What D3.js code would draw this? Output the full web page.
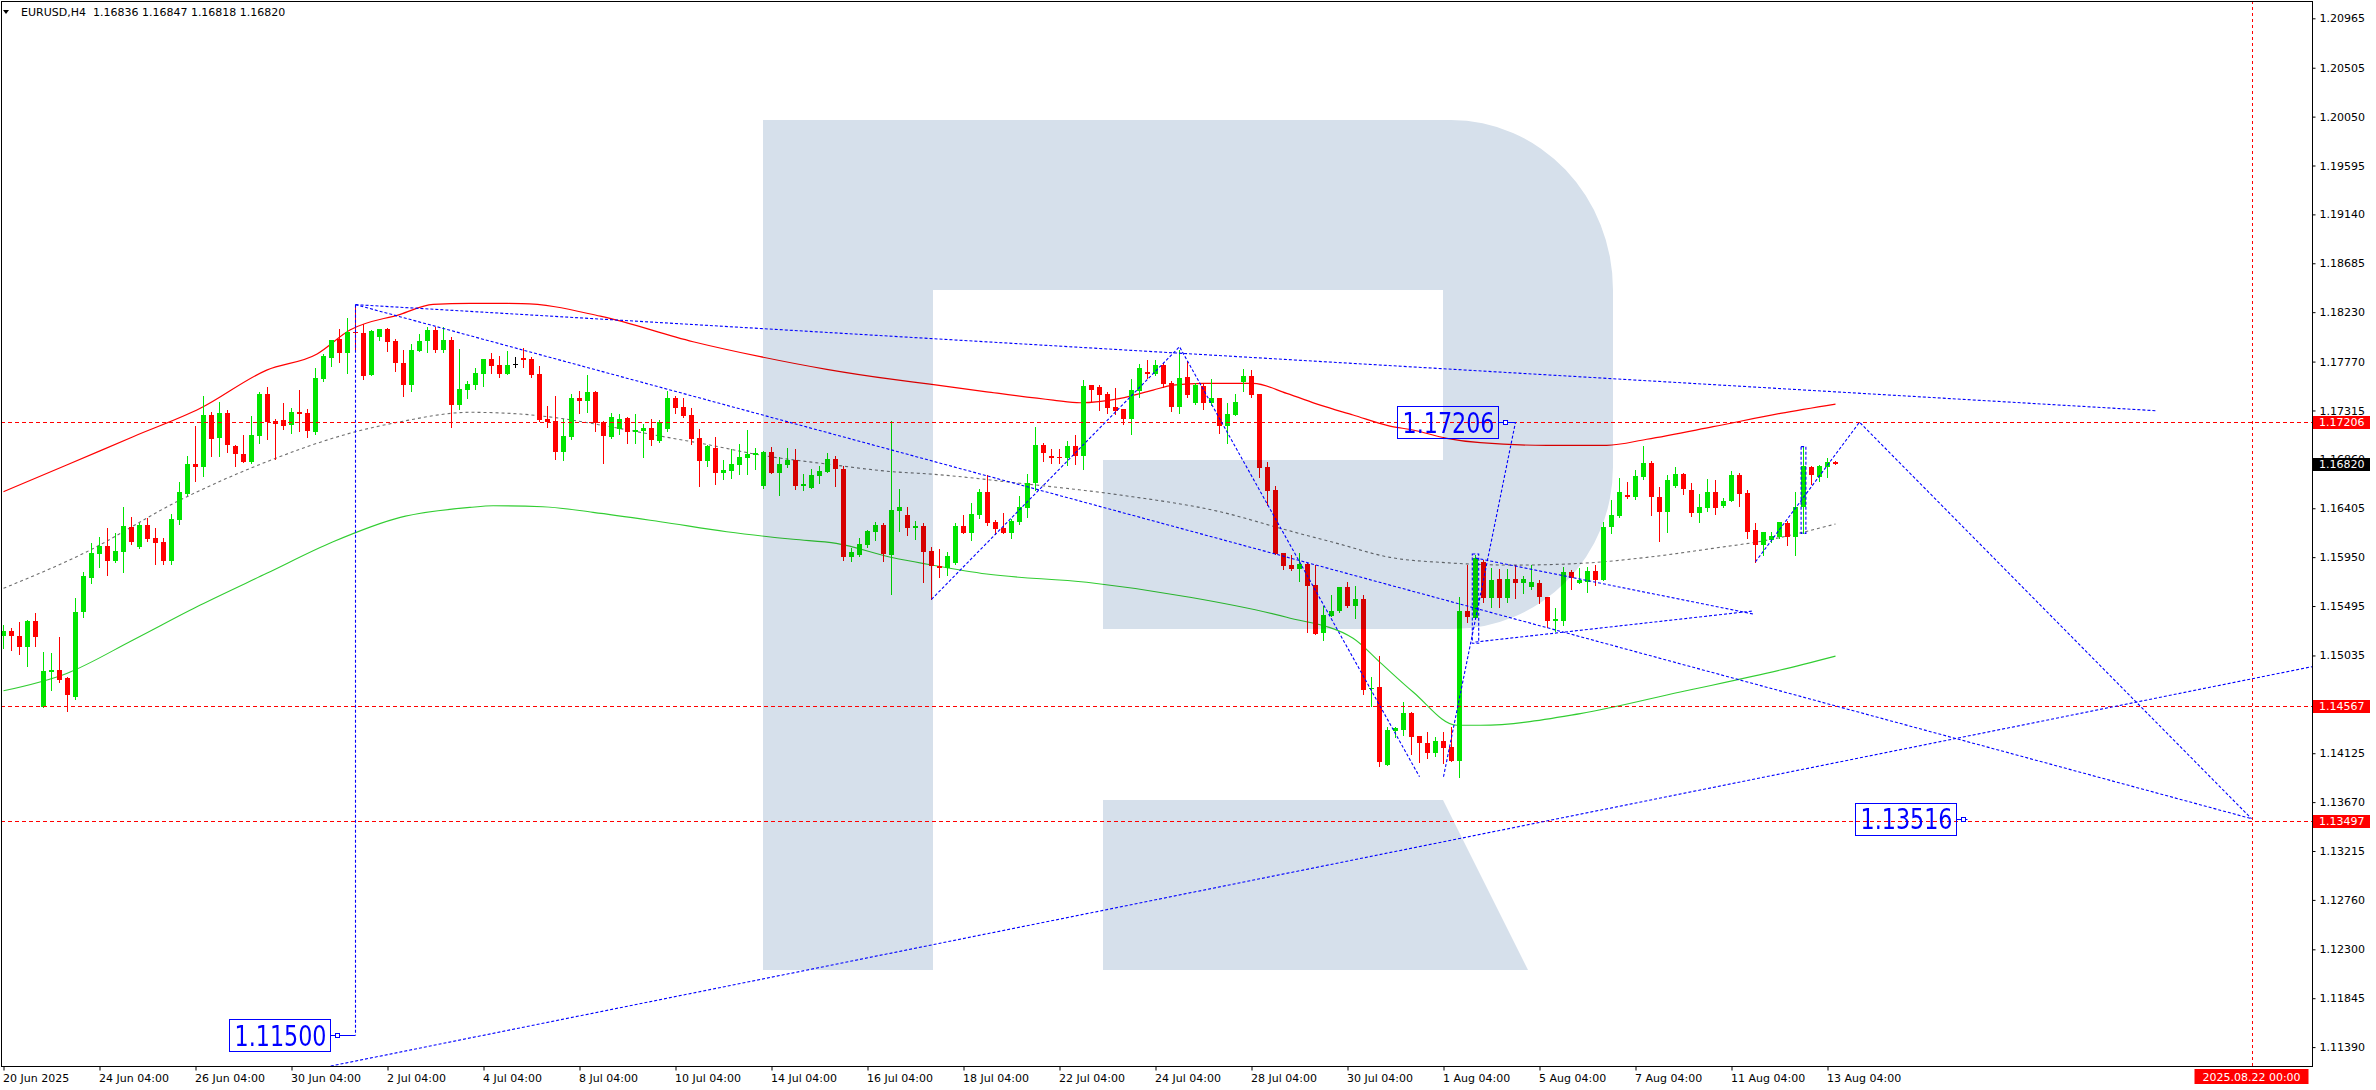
<!DOCTYPE html>
<html><head><meta charset="utf-8">
<script src="https://cdn.jsdelivr.net/npm/d3@7/dist/d3.min.js"></script>
<style>
html,body{margin:0;padding:0;background:#fff;overflow:hidden}
svg{display:block}
</style></head><body>
<svg id="chart" width="2376" height="1090"></svg>
<script>
// ================= DATA =================
const symbolTitle = "EURUSD,H4";
const firstBarTime = "2025-06-20T04:00:00Z";
const lastBarOHLC = [1.16836, 1.16847, 1.16818, 1.16820];

const opens = [1.15219,1.15263,1.15216,1.15117,1.15358,1.14558,1.14883,1.14899,1.14822,1.14651,
1.15442,1.15758,1.15979,1.16053,1.15914,1.16000,1.16230,1.16047,1.16248,1.16128,
1.16093,1.15916,1.16295,1.16538,1.16817,1.16792,1.17273,1.17061,1.17288,1.16984,
1.16910,1.16835,1.17080,1.17468,1.17217,1.17226,1.17177,1.17300,1.17288,1.17117,
1.17607,1.17806,1.17978,1.17853,1.18045,1.18039,1.17644,1.17996,1.18071,1.17962,
1.17754,1.17554,1.17871,1.17959,1.18064,1.17878,1.17971,1.17368,1.17508,1.17551,
1.17654,1.17794,1.17738,1.17654,1.17747,1.17803,1.17794,1.17654,1.17236,1.17217,
1.16931,1.17065,1.17428,1.17405,1.17486,1.17205,1.17071,1.17142,1.17242,1.17117,
1.17124,1.17152,1.17034,1.17140,1.17431,1.17344,1.17273,1.17056,1.16847,1.16965,
1.16736,1.16754,1.16808,1.16875,1.16900,1.16612,1.16925,1.16730,1.16808,1.16854,
1.16612,1.16593,1.16705,1.16742,1.16863,1.16772,1.15948,1.15970,1.16062,1.16187,
1.16248,1.15970,1.16379,1.16342,1.16223,1.16239,1.16009,1.15867,1.15848,1.15898,
1.16239,1.16177,1.16342,1.16553,1.16276,1.16218,1.16177,1.16274,1.16410,1.16637,
1.16993,1.16891,1.16885,1.16873,1.16984,1.16891,1.17549,1.17536,1.17468,1.17344,
1.17329,1.17233,1.17496,1.17673,1.17654,1.17741,1.17573,1.17344,1.17629,1.17381,
1.17542,1.17381,1.17428,1.17170,1.17273,1.17582,1.17638,1.17468,1.16791,1.16575,
1.15986,1.15876,1.15842,1.15883,1.15690,1.15241,1.15402,1.15449,1.15669,1.15495,
1.15560,1.14720,1.14738,1.14015,1.14332,1.14341,1.14502,1.14285,1.14223,1.14130,
1.14238,1.14180,1.14055,1.15449,1.15381,1.15908,1.15567,1.15743,1.15573,1.15743,
1.15712,1.15669,1.15712,1.15576,1.15358,1.15358,1.15814,1.15712,1.15721,1.15821,
1.15737,1.16227,1.16332,1.16528,1.16512,1.16693,1.16829,1.16506,1.16372,1.16612,
1.16724,1.16575,1.16363,1.16404,1.16559,1.16426,1.16469,1.16714,1.16550,1.16202,
1.16063,1.16109,1.16140,1.16264,1.16140,1.16413,1.16792,1.16698,1.16792,1.16836];

const highs = [1.15318,1.15293,1.15349,1.15365,1.15433,1.15069,1.15057,1.15210,1.14834,1.15572,
1.15814,1.16078,1.16134,1.16218,1.16171,1.16414,1.16320,1.16264,1.16311,1.16218,
1.16125,1.16351,1.16649,1.16891,1.17170,1.17449,1.17298,1.17393,1.17319,1.16990,
1.17087,1.17263,1.17490,1.17530,1.17236,1.17381,1.17338,1.17505,1.17326,1.17710,
1.17840,1.17971,1.18071,1.18173,1.18300,1.18120,1.18064,1.18076,1.18085,1.17978,
1.17878,1.17934,1.18027,1.18090,1.18090,1.18090,1.17996,1.17887,1.17591,1.17713,
1.17794,1.17853,1.17822,1.17871,1.17810,1.17893,1.17810,1.17729,1.17356,1.17449,
1.17233,1.17468,1.17496,1.17644,1.17496,1.17219,1.17288,1.17279,1.17251,1.17282,
1.17189,1.17233,1.17226,1.17498,1.17449,1.17428,1.17335,1.17142,1.16993,1.17065,
1.16854,1.16953,1.17000,1.17133,1.16963,1.16935,1.16978,1.16885,1.16968,1.16956,
1.16724,1.16767,1.16798,1.16916,1.16891,1.16798,1.16032,1.16125,1.16202,1.16274,
1.16264,1.17219,1.16584,1.16419,1.16286,1.16270,1.16041,1.16028,1.16000,1.16270,
1.16342,1.16456,1.16584,1.16714,1.16295,1.16363,1.16301,1.16519,1.16724,1.17158,
1.17015,1.16956,1.16953,1.17031,1.17087,1.17598,1.17549,1.17551,1.17489,1.17521,
1.17329,1.17605,1.17747,1.17785,1.17785,1.17760,1.17589,1.17880,1.17772,1.17567,
1.17573,1.17605,1.17428,1.17387,1.17468,1.17701,1.17691,1.17468,1.16833,1.16612,
1.15986,1.15967,1.15986,1.15892,1.15874,1.15498,1.15598,1.15675,1.15716,1.15681,
1.15598,1.14837,1.15030,1.14372,1.14372,1.14604,1.14511,1.14285,1.14325,1.14279,
1.14325,1.14372,1.15576,1.15877,1.15970,1.15923,1.15846,1.15837,1.15837,1.15877,
1.15774,1.15877,1.15737,1.15582,1.15474,1.15855,1.15830,1.15846,1.15855,1.15877,
1.16280,1.16482,1.16683,1.16652,1.16761,1.16984,1.16847,1.16605,1.16714,1.16786,
1.16736,1.16637,1.16538,1.16677,1.16668,1.16497,1.16754,1.16736,1.16575,1.16264,
1.16184,1.16187,1.16280,1.16289,1.16553,1.16984,1.16798,1.16808,1.16875,1.16847];

const lows = [1.15105,1.15085,1.15048,1.14936,1.15123,1.14558,1.14713,1.14790,1.14520,1.14627,
1.15396,1.15712,1.15855,1.15783,1.15902,1.15814,1.16072,1.16032,1.16102,1.15886,
1.15886,1.15886,1.16258,1.16528,1.16661,1.16705,1.16891,1.16891,1.16928,1.16801,
1.16835,1.16826,1.17009,1.17047,1.16863,1.17145,1.17108,1.17126,1.17071,1.17096,
1.17591,1.17729,1.17769,1.17666,1.17887,1.17604,1.17644,1.17971,1.17871,1.17685,
1.17449,1.17498,1.17871,1.17862,1.17862,1.17862,1.17164,1.17331,1.17427,1.17512,
1.17542,1.17660,1.17629,1.17654,1.17716,1.17722,1.17629,1.17219,1.17164,1.16863,
1.16854,1.17049,1.17294,1.17303,1.17126,1.16823,1.17056,1.17096,1.17009,1.17015,
1.16885,1.16993,1.17024,1.17126,1.17288,1.17251,1.17003,1.16615,1.16798,1.16631,
1.16677,1.16689,1.16724,1.16724,1.16770,1.16596,1.16730,1.16528,1.16786,1.16584,
1.16575,1.16593,1.16643,1.16742,1.16612,1.15923,1.15916,1.15960,1.16047,1.16109,
1.15916,1.15607,1.16196,1.16156,1.16116,1.15721,1.15557,1.15768,1.15783,1.15886,
1.16177,1.16109,1.16311,1.16248,1.16162,1.16171,1.16130,1.16255,1.16326,1.16575,
1.16847,1.16829,1.16823,1.16808,1.16817,1.16772,1.17405,1.17319,1.17294,1.17282,
1.17189,1.17096,1.17443,1.17614,1.17644,1.17536,1.17313,1.17294,1.17443,1.17375,
1.17331,1.17366,1.17102,1.17015,1.17273,1.17496,1.17443,1.16698,1.16435,1.15979,
1.15839,1.15830,1.15731,1.15256,1.15235,1.15179,1.15402,1.15437,1.15483,1.15380,
1.14676,1.14564,1.14006,1.14015,1.14279,1.14294,1.14118,1.14046,1.14084,1.14099,
1.14031,1.14055,1.13906,1.15349,1.15381,1.15536,1.15489,1.15489,1.15536,1.15567,
1.15619,1.15650,1.15526,1.15303,1.15265,1.15318,1.15653,1.15706,1.15628,1.15690,
1.15737,1.16171,1.16320,1.16497,1.16488,1.16674,1.16342,1.16102,1.16187,1.16606,
1.16538,1.16332,1.16280,1.16382,1.16351,1.16413,1.16469,1.16426,1.16125,1.15907,
1.15970,1.16093,1.16125,1.16063,1.15970,1.16171,1.16631,1.16661,1.16698,1.16818];

const closes = [1.15263,1.15219,1.15117,1.15358,1.15210,1.14892,1.14899,1.14806,1.14666,1.15442,
1.15774,1.15985,1.16056,1.15916,1.16007,1.16239,1.16093,1.16248,1.16118,1.16084,
1.15916,1.16304,1.16556,1.16817,1.16792,1.17273,1.17052,1.17288,1.16996,1.16913,
1.16835,1.17087,1.17468,1.17205,1.17186,1.17173,1.17300,1.17282,1.17126,1.17617,
1.17822,1.17971,1.17853,1.18045,1.18033,1.17635,1.18055,1.18071,1.17955,1.17754,
1.17554,1.17878,1.17962,1.18064,1.17878,1.17971,1.17368,1.17514,1.17558,1.17666,
1.17794,1.17729,1.17654,1.17738,1.17747,1.17785,1.17644,1.17226,1.17207,1.16931,
1.17077,1.17428,1.17405,1.17486,1.17201,1.17077,1.17251,1.17233,1.17117,1.17133,
1.17152,1.17040,1.17205,1.17431,1.17338,1.17263,1.17049,1.16847,1.16987,1.16736,
1.16761,1.16817,1.16885,1.16910,1.16919,1.16925,1.16730,1.16817,1.16854,1.16612,
1.16631,1.16714,1.16752,1.16863,1.16772,1.15948,1.16000,1.16072,1.16193,1.16248,
1.15979,1.16388,1.16416,1.16223,1.16239,1.16000,1.15867,1.15848,1.15960,1.16239,
1.16177,1.16351,1.16553,1.16264,1.16214,1.16177,1.16286,1.16413,1.16643,1.16993,
1.16922,1.16873,1.16873,1.16984,1.16891,1.17542,1.17505,1.17458,1.17341,1.17310,
1.17238,1.17505,1.17710,1.17654,1.17741,1.17561,1.17344,1.17614,1.17458,1.17549,
1.17387,1.17428,1.17170,1.17282,1.17396,1.17638,1.17458,1.16782,1.16565,1.15979,
1.15870,1.15839,1.15883,1.15684,1.15235,1.15412,1.15449,1.15669,1.15495,1.15560,
1.14713,1.14735,1.14043,1.14341,1.14356,1.14502,1.14279,1.14217,1.14130,1.14238,
1.14176,1.14055,1.15449,1.15390,1.15939,1.15567,1.15737,1.15573,1.15743,1.15712,
1.15743,1.15718,1.15576,1.15358,1.15371,1.15814,1.15752,1.15737,1.15821,1.15737,
1.16233,1.16342,1.16556,1.16506,1.16705,1.16829,1.16506,1.16372,1.16668,1.16724,
1.16582,1.16363,1.16419,1.16559,1.16404,1.16475,1.16714,1.16538,1.16187,1.16063,
1.16184,1.16146,1.16280,1.16140,1.16419,1.16798,1.16714,1.16798,1.16836,1.16820];

const priceTicks = [1.20965,1.20505,1.20050,1.19595,1.19140,1.18685,1.18230,1.17770,1.17315,1.16860,
1.16405,1.15950,1.15495,1.15035,1.14580,1.14125,1.13670,1.13215,1.12760,1.12300,1.11845,1.11390];

const timeTickLabels = ["20 Jun 2025","24 Jun 04:00","26 Jun 04:00","30 Jun 04:00","2 Jul 04:00","4 Jul 04:00",
"8 Jul 04:00","10 Jul 04:00","14 Jul 04:00","16 Jul 04:00","18 Jul 04:00","22 Jul 04:00","24 Jul 04:00",
"28 Jul 04:00","30 Jul 04:00","1 Aug 04:00","5 Aug 04:00","7 Aug 04:00","11 Aug 04:00","13 Aug 04:00"];

// moving averages: [bar index, price]
const maRed = [[0,1.16559],[7.9,1.16807],[16.2,1.17071],[24.6,1.17335],[32.9,1.17691],[39.2,1.17841],
[43.3,1.18064],[49.6,1.18210],[53.7,1.18303],[58.3,1.18312],[64.8,1.18310],[74.6,1.18193],[86.2,1.17955],
[94.6,1.17816],[102.9,1.17698],[111.2,1.17604],[115.8,1.17561],[122.9,1.17489],[131.2,1.17412],
[134.6,1.17387],[139.6,1.17428],[143.7,1.17505],[146.2,1.17551],[149.9,1.17567],[156.2,1.17567],
[160.4,1.17474],[164.6,1.17365],[168.7,1.17273],[173.3,1.17170],[176.2,1.17133],[180.4,1.17056],
[184.6,1.17015],[192.9,1.16991],[200.4,1.16991],[205.4,1.17047],[213.7,1.17164],[222.1,1.17288],[229,1.17375]];

const maGray = [[0,1.15660],[10,1.15985],[22.1,1.16482],[32.9,1.16838],[44,1.17117],[49.6,1.17210],
[58.3,1.17298],[64.6,1.17282],[69.6,1.17242],[75.8,1.17164],[82.1,1.17077],[88.3,1.16993],[94.6,1.16900],
[102.9,1.16817],[111.2,1.16745],[115.8,1.16724],[127.1,1.16637],[139.6,1.16528],[152.1,1.16372],
[160.4,1.16202],[166.7,1.16078],[173.3,1.15948],[180.4,1.15898],[188.8,1.15876],[197.1,1.15892],
[205.4,1.15948],[213.7,1.16032],[220,1.16102],[229,1.16258]];

const maGreen = [[0,1.14706],[7.9,1.14868],[16.2,1.15179],[24.6,1.15504],[32.9,1.15799],[41.2,1.16093],
[49.6,1.16320],[58.3,1.16413],[61.2,1.16428],[67.4,1.16419],[73.7,1.16367],[82.1,1.16280],[90.4,1.16187],
[98.7,1.16116],[104.1,1.16078],[111.2,1.15944],[115.8,1.15880],[122.9,1.15793],[135.4,1.15716],
[147.9,1.15582],[160.4,1.15390],[168.7,1.15195],[172.1,1.14968],[176.2,1.14695],[181.7,1.14385],
[184.6,1.14385],[197.1,1.14494],[209.6,1.14695],[222.1,1.14899],[229,1.15029]];

const levelLines = [1.17206, 1.14567, 1.13497];
const currentPrice = 1.16820;
const forecastTime = "2025-08-22T00:00:00Z";
const forecastTimeLabel = "2025.08.22 00:00";

// analyst drawings: [bar index, price]
const trendLines = [
  [[44,1.18300],[269,1.17313]],
  [[44,1.18300],[281,1.13516]],
  [[36,1.11140],[290,1.14952]]
];
const waveLines = [
  [[44,1.18300],[44,1.11500]],
  [[116,1.15557],[147,1.17908],[177,1.13906]],
  [[180,1.13906],[189,1.17206]],
  [[219,1.15907],[232,1.17206],[281,1.13516]],
  [[184,1.15942],[218.7,1.15421]],
  [[184,1.15160],[218.7,1.15449]]
];
const markRects = [[183.6,184.4,1.15979,1.15148],[224.7,225.3,1.16979,1.16171]];
const targetLabels = [
  {text:"1.17206", bar:186.8, price:1.17206, link:189},
  {text:"1.13516", bar:244,   price:1.13516, link:245.5},
  {text:"1.11500", bar:40.8,  price:1.11500, link:44}
];

// ================= RENDER =================
const svg = d3.select("#chart");
const PL = 1, PT = 1, PR = 2312, PB = 1066;
const FONT = "DejaVu Sans, Verdana, sans-serif";

const x = d3.scaleLinear().domain([0, 281]).range([3.5, 2251.5]);
const y = d3.scaleLinear().domain([1.11390, 1.20965]).range([1047.1, 18.3]);

// bar times (H4, skipping weekends)
const H4 = 4 * 3600 * 1000;
const times = [];
{ let t = Date.parse(firstBarTime);
  for (let i = 0; i < opens.length; i++) {
    while ([0,6].includes(new Date(t).getUTCDay())) t += H4;
    times.push(t); t += H4; } }
const MON = ["Jan","Feb","Mar","Apr","May","Jun","Jul","Aug","Sep","Oct","Nov","Dec"];
const fmtBar = t => { const d = new Date(t); return `${d.getUTCDate()} ${MON[d.getUTCMonth()]} ${String(d.getUTCHours()).padStart(2,"0")}:00`; };
const tickIdx = timeTickLabels.map((lab, k) => k === 0 ? 0 : times.findIndex(t => fmtBar(t) === lab));
const forecastIdx = (opens.length - 1) + (Date.parse(forecastTime) - times[times.length - 1]) / H4;

svg.append("rect").attr("width", 2376).attr("height", 1090).attr("fill", "#fff");
const defs = svg.append("defs");
defs.append("clipPath").attr("id", "plotClip").append("rect")
  .attr("x", PL).attr("y", PT).attr("width", PR - PL).attr("height", PB - PT);

const plot = svg.append("g").attr("clip-path", "url(#plotClip)");
plot.append("rect").attr("x", PL).attr("y", PT).attr("width", PR - PL).attr("height", PB - PT).attr("fill", "#fff");

const line = d3.line().x(d => x(d[0])).y(d => y(d[1]));
const smooth = d3.line().x(d => x(d[0])).y(d => y(d[1])).curve(d3.curveMonotoneX);

// moving averages
plot.append("path").datum(maGreen).attr("d", smooth).attr("fill", "none").attr("stroke", "#32cd32").attr("stroke-width", 1.1);
plot.append("path").datum(maGray).attr("d", smooth).attr("fill", "none").attr("stroke", "#6e6e6e").attr("stroke-width", 1.1).attr("stroke-dasharray", "3,3");
plot.append("path").datum(maRed).attr("d", smooth).attr("fill", "none").attr("stroke", "#ff0000").attr("stroke-width", 1.2);

// candles
const candles = opens.map((o, i) => ({ i, o, h: highs[i], l: lows[i], c: closes[i] }));
const col = d => d.c > d.o ? "#00e400" : (d.c < d.o ? "#ff0000" : "#000000");
const cg = plot.append("g").attr("shape-rendering", "crispEdges");
cg.selectAll("line").data(candles).join("line")
  .attr("x1", d => x(d.i)).attr("x2", d => x(d.i))
  .attr("y1", d => Math.round(y(d.h))).attr("y2", d => Math.round(y(d.l)) + 1)
  .attr("stroke", col).attr("stroke-width", 1);
cg.selectAll("rect").data(candles).join("rect")
  .attr("x", d => x(d.i) - 2.5).attr("width", 5)
  .attr("y", d => Math.round(y(Math.max(d.o, d.c))))
  .attr("height", d => Math.max(1, Math.round(y(Math.min(d.o, d.c))) - Math.round(y(Math.max(d.o, d.c)))))
  .attr("fill", col);

// watermark logo (multiplied over the chart)
const logo = plot.append("g").style("mix-blend-mode", "multiply").attr("fill", "#d6e0eb");
logo.append("path").attr("d", "M763,120 H1451 A162,170 0 0 1 1613,290 V467 A160,162 0 0 1 1453,629 H1103 V460 H1443 V290 H933 V970 H763 Z");
logo.append("path").attr("d", "M1103,800 H1443 L1528,970 H1103 Z");

// horizontal levels
const crisp = v => Math.round(v) + 0.5;
plot.selectAll(".lvl").data(levelLines).join("line").attr("class", "lvl")
  .attr("x1", PL).attr("x2", PR).attr("y1", d => crisp(y(d))).attr("y2", d => crisp(y(d)))
  .attr("stroke", "#ff0000").attr("stroke-width", 1).attr("stroke-dasharray", "4,3");
// forecast vertical line
plot.append("line").attr("x1", crisp(x(forecastIdx))).attr("x2", crisp(x(forecastIdx))).attr("y1", PT).attr("y2", PB)
  .attr("stroke", "#ff0000").attr("stroke-width", 1).attr("stroke-dasharray", "3,3");

// analyst drawings
const blue = "#0000ff";
const dg = plot.append("g").attr("fill", "none").attr("stroke", blue).attr("stroke-width", 1.1).attr("stroke-dasharray", "3,2");
dg.selectAll(".tl").data(trendLines).join("path").attr("class", "tl").attr("d", line);
dg.selectAll(".wl").data(waveLines).join("path").attr("class", "wl").attr("d", line);
dg.selectAll(".mr").data(markRects).join("rect").attr("class", "mr")
  .attr("x", d => x(d[0])).attr("width", d => x(d[1]) - x(d[0]))
  .attr("y", d => y(d[2])).attr("height", d => y(d[3]) - y(d[2]));

// target labels
const tg = plot.append("g");
targetLabels.forEach(t => {
  const xr = Math.round(x(t.bar)) + 0.5, yc = y(t.price);
  const bw = 101, bh = 32;
  tg.append("rect").attr("x", xr - bw).attr("y", Math.round(yc - bh / 2) + 0.5).attr("width", bw).attr("height", bh)
    .attr("fill", "none").attr("stroke", blue).attr("stroke-width", 1);
  tg.append("text").attr("x", xr - bw + 5).attr("y", yc + 10.5).text(t.text)
    .attr("font-family", FONT).attr("font-size", 28).attr("fill", blue)
    .attr("textLength", 92).attr("lengthAdjust", "spacingAndGlyphs");
  tg.append("line").attr("x1", xr).attr("x2", x(t.link)).attr("y1", crisp(yc)).attr("y2", crisp(yc))
    .attr("stroke", blue).attr("stroke-width", 1);
  tg.append("rect").attr("x", xr + 5).attr("y", crisp(yc) - 2).attr("width", 4).attr("height", 4)
    .attr("fill", "#fff").attr("stroke", blue).attr("stroke-width", 1);
});

// frame
svg.append("rect").attr("x", PL + 0.5).attr("y", PT + 0.5).attr("width", PR - PL).attr("height", PB - PT)
  .attr("fill", "none").attr("stroke", "#000").attr("stroke-width", 1).attr("shape-rendering", "crispEdges");

// price axis
const yAxis = d3.axisRight(y).tickValues(priceTicks).tickFormat(d3.format(".5f")).tickSize(3).tickPadding(4);
const ya = svg.append("g").attr("transform", `translate(${PR + 0.5},0)`).call(yAxis);
ya.select(".domain").remove();
ya.selectAll("text").attr("font-family", FONT).attr("font-size", 11).attr("fill", "#000");
ya.selectAll("line").attr("stroke", "#000");

// time axis
const xAxis = d3.axisBottom(x).tickValues(tickIdx).tickFormat((d, k) => timeTickLabels[k]).tickSize(4).tickPadding(4);
const xa = svg.append("g").attr("transform", `translate(0,${PB + 0.5})`).call(xAxis);
xa.select(".domain").remove();
xa.selectAll("text").attr("font-family", FONT).attr("font-size", 11).attr("fill", "#000").attr("text-anchor", "start").attr("x", -1);
xa.selectAll("line").attr("stroke", "#000");

// price tags on the axis
function priceTag(p, bg) {
  const yc = y(p);
  svg.append("rect").attr("x", PR + 1).attr("y", Math.round(yc) - 6).attr("width", 57).attr("height", 13).attr("fill", bg);
  svg.append("text").attr("x", PR + 7).attr("y", yc + 4).text(d3.format(".5f")(p))
    .attr("font-family", FONT).attr("font-size", 11).attr("fill", "#fff");
}
levelLines.forEach(p => priceTag(p, "#ff0000"));
priceTag(currentPrice, "#000000");

// time tag
{ const xc = x(forecastIdx);
  svg.append("rect").attr("x", xc - 57).attr("y", PB + 3).attr("width", 114).attr("height", 15).attr("fill", "#ff0000");
  svg.append("text").attr("x", xc).attr("y", PB + 14.5).attr("text-anchor", "middle").text(forecastTimeLabel)
    .attr("font-family", FONT).attr("font-size", 11).attr("fill", "#fff"); }

// header
svg.append("path").attr("d", "M3,10 L9,10 L6,14 Z").attr("fill", "#000");
svg.append("text").attr("x", 21).attr("y", 16).style("white-space", "pre")
  .text(`${symbolTitle}  ${lastBarOHLC.map(d3.format(".5f")).join(" ")}`)
  .attr("font-family", FONT).attr("font-size", 11).attr("fill", "#000");
</script>
</body></html>
